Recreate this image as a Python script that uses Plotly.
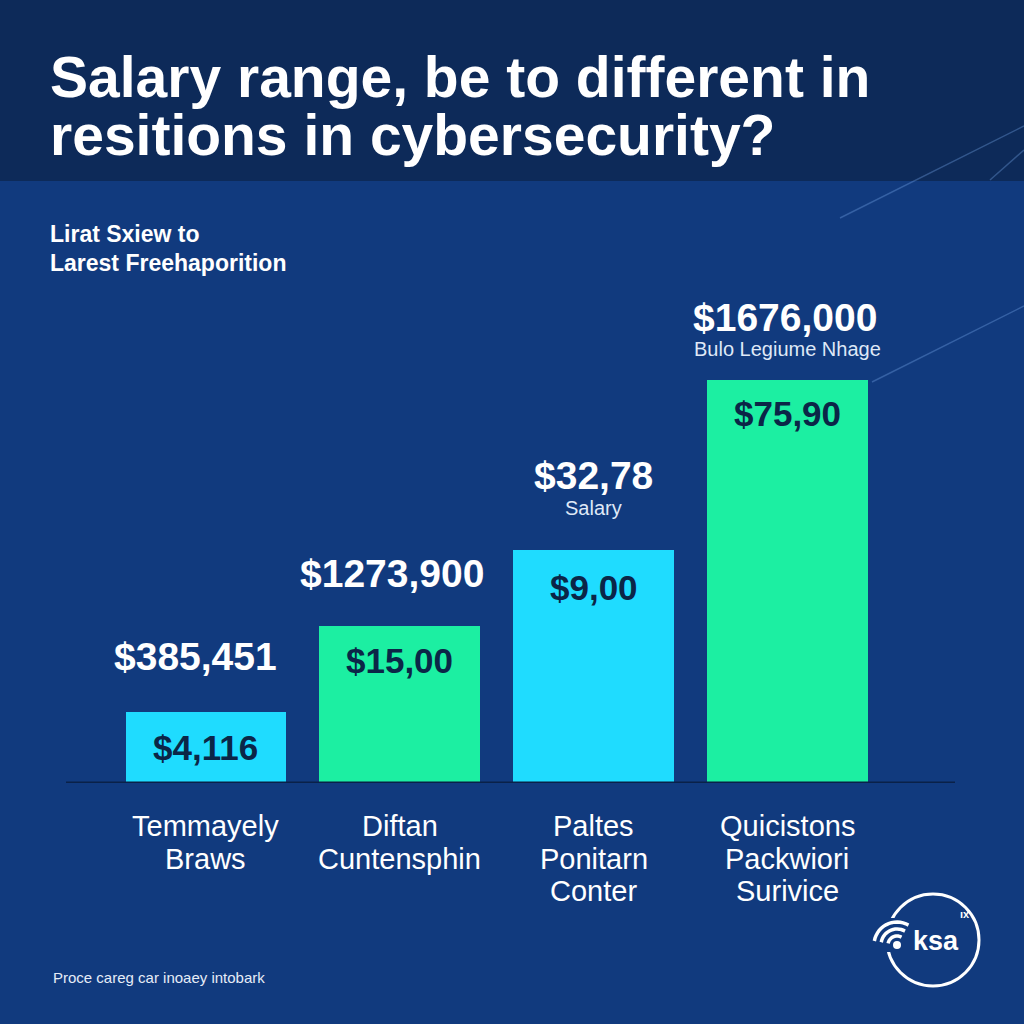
import numpy as np
import plotly.graph_objects as go

# ---------------- data ----------------
categories = [
    ["Temmayely", "Braws"],
    ["Diftan", "Cuntensphin"],
    ["Paltes", "Ponitarn", "Conter"],
    ["Quicistons", "Packwiori", "Surivice"],
]
bar_values = [71, 157, 233, 403]          # relative bar height
top_labels = ["$385,451", "$1273,900", "$32,78", "$1676,000"]
sub_labels = ["", "", "Salary", "Bulo Legiume Nhage"]
inner_labels = ["$4,116", "$15,00", "$9,00", "$75,90"]

title_lines = ["Salary range, be to different in", "resitions in cybersecurity?"]
subtitle_lines = ["Lirat Sxiew to", "Larest Freehaporition"]
footer_text = "Proce careg car inoaey intobark"
logo_text = "ksa"

# ---------------- styles ----------------
W = H = 1024
BODY = "#113a7e"
HEADER = "#0d2a59"
CYAN = "#1fdcff"
GREEN = "#1cefa2"
DARK = "#0b2647"
bar_colors = [CYAN, GREEN, CYAN, GREEN]


def px(x):
    return x / W


def py(y):
    return 1 - y / H


x_pos = list(range(len(bar_values)))

fig = go.Figure()
fig.add_trace(go.Bar(
    x=x_pos, y=bar_values, width=0.83,
    marker=dict(color=bar_colors, line=dict(width=0)),
    hoverinfo="skip",
))

annotations = []
font_main = "Liberation Sans, Arial, sans-serif"

top_shift = [56, 53, 75, 63]
top_xshift = [-10, -8, 0, -2]
sub_shift = [0, 0, 42, 31]
inner_shift = [-35, -34, -37, -33]
for i, v in enumerate(bar_values):
    annotations.append(dict(
        x=i, y=v, xref="x", yref="y", text=f"<b>{top_labels[i]}</b>",
        showarrow=False, yshift=top_shift[i], xshift=top_xshift[i],
        font=dict(family=font_main, size=39, color="white"),
        xanchor="center", yanchor="middle"))
    if sub_labels[i]:
        annotations.append(dict(
            x=i, y=v, xref="x", yref="y", text=sub_labels[i],
            showarrow=False, yshift=sub_shift[i],
            font=dict(family=font_main, size=20, color="#dfe8f7"),
            xanchor="center", yanchor="middle"))
    annotations.append(dict(
        x=i, y=v, xref="x", yref="y", text=f"<b>{inner_labels[i]}</b>",
        showarrow=False, yshift=inner_shift[i],
        font=dict(family=font_main, size=35, color=DARK),
        xanchor="center", yanchor="middle"))
    for j, line in enumerate(categories[i]):
        annotations.append(dict(
            x=i, y=0, xref="x", yref="y", text=line,
            showarrow=False, yshift=-43 - 32.5 * j,
            font=dict(family=font_main, size=29, color="white"),
            xanchor="center", yanchor="middle"))

# title
for j, line in enumerate(title_lines):
    annotations.append(dict(
        x=px(48), y=py(77 + 58 * j), xref="paper", yref="paper",
        text=f"<b>{line}</b>", showarrow=False,
        font=dict(family=font_main, size=57, color="white"),
        xanchor="left", yanchor="middle"))
for j, line in enumerate(subtitle_lines):
    annotations.append(dict(
        x=px(48), y=py(234 + 29 * j), xref="paper", yref="paper",
        text=f"<b>{line}</b>", showarrow=False,
        font=dict(family=font_main, size=23, color="white"),
        xanchor="left", yanchor="middle"))
annotations.append(dict(
    x=px(51), y=py(977), xref="paper", yref="paper", text=footer_text,
    showarrow=False, font=dict(family=font_main, size=15, color="#e6ecf7"),
    xanchor="left", yanchor="middle"))

# logo text
annotations.append(dict(
    x=px(936), y=py(941), xref="paper", yref="paper", text=f"<b>{logo_text}</b>",
    showarrow=False, font=dict(family=font_main, size=27, color="white"),
    xanchor="center", yanchor="middle"))
annotations.append(dict(
    x=px(965), y=py(914), xref="paper", yref="paper", text="<b>ıx</b>",
    showarrow=False, font=dict(family=font_main, size=11, color="white"),
    xanchor="center", yanchor="middle"))

shapes = []
# header band
shapes.append(dict(type="rect", xref="paper", yref="paper", x0=0, x1=1,
                   y0=py(181), y1=1, fillcolor=HEADER, line=dict(width=0), layer="below"))
# decorative diagonal lines
for (x0, y0, x1, y1) in [(840, 218, 1024, 126), (872, 382, 1024, 306), (990, 180, 1024, 150)]:
    shapes.append(dict(type="line", xref="paper", yref="paper",
                       x0=px(x0), y0=py(y0), x1=px(x1), y1=py(y1),
                       line=dict(color="rgba(120,170,235,0.35)", width=1.5), layer="below"))
# baseline
shapes.append(dict(type="line", xref="paper", yref="y", x0=px(66), x1=px(955),
                   y0=0, y1=0, line=dict(color="#0a2148", width=3)))

# logo circle
cx, cy, r = 933, 940, 46
shapes.append(dict(type="circle", xref="paper", yref="paper",
                   x0=px(cx - r), x1=px(cx + r), y0=py(cy + r), y1=py(cy - r),
                   line=dict(color="white", width=3)))
# mask behind wifi icon
shapes.append(dict(type="rect", xref="paper", yref="paper",
                   x0=px(878), x1=px(903), y0=py(952), y1=py(918),
                   fillcolor=BODY, line=dict(width=0)))
# wifi icon
wx, wy = 897, 945
shapes.append(dict(type="circle", xref="paper", yref="paper",
                   x0=px(wx - 4), x1=px(wx + 4), y0=py(wy + 4), y1=py(wy - 4),
                   fillcolor="white", line=dict(width=0)))
for rad in [9, 16, 23]:
    ang = np.linspace(np.radians(60), np.radians(170), 16)
    pts = [(px(wx + rad * np.cos(a)), py(wy - rad * np.sin(a))) for a in ang]
    path = "M " + " L ".join(f"{a:.5f},{b:.5f}" for a, b in pts)
    shapes.append(dict(type="path", xref="paper", yref="paper", path=path,
                       line=dict(color="white", width=3.5)))

fig.update_layout(
    width=W, height=H,
    margin=dict(l=0, r=0, t=0, b=0),
    paper_bgcolor=BODY, plot_bgcolor="rgba(0,0,0,0)",
    showlegend=False,
    xaxis=dict(range=[-0.722, 3.865], domain=[px(66), px(955)], visible=False, fixedrange=True),
    yaxis=dict(range=[0, 603], domain=[py(783), py(180)], visible=False, fixedrange=True),
    annotations=annotations, shapes=shapes,
    bargap=0,
)

fig.write_html("out.html", config={"displayModeBar": False},
               post_script="document.body.style.margin='0px';")
